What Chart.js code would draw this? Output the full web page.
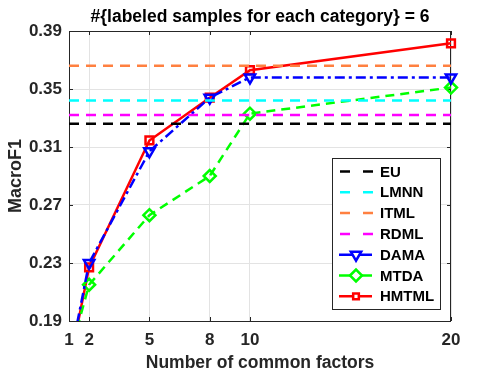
<!DOCTYPE html>
<html><head><meta charset="utf-8">
<script src="https://cdn.jsdelivr.net/npm/chart.js@4/dist/chart.umd.min.js"></script>
<style>html,body{margin:0;padding:0;background:#fff}#wrap{width:498px;height:380px}</style>
</head><body><div id="wrap"><canvas id="c" width="498" height="380"></canvas></div>
<script>
const xValues = [1, 2, 5, 8, 10, 20];
const xTicks = [1, 2, 5, 8, 10, 20];
const yTicks = [0.19, 0.23, 0.27, 0.31, 0.35, 0.39];
const EU = [0.326, 0.326, 0.326, 0.326, 0.326, 0.326];
const LMNN = [0.342, 0.342, 0.342, 0.342, 0.342, 0.342];
const ITML = [0.366, 0.366, 0.366, 0.366, 0.366, 0.366];
const RDML = [0.332, 0.332, 0.332, 0.332, 0.332, 0.332];
const DAMA = [0.160, 0.230, 0.307, 0.344, 0.358, 0.358];
const MTDA = [0.165, 0.215, 0.263, 0.290, 0.333, 0.351];
const HMTML = [0.158, 0.227, 0.3145, 0.344, 0.363, 0.3815];
const names = ['EU', 'LMNN', 'ITML', 'RDML', 'DAMA', 'MTDA', 'HMTML'];
const titleText = '#{labeled samples for each category} = 6';

const FONT = 'Liberation Sans, Arial, sans-serif';
const CLIP = {left: 0, top: 0, right: false, bottom: 0};
function pts(arr){ return arr.map((v,i)=>({x:xValues[i], y:v})); }
function hline(label, arr, color){
  return {label, data: pts(arr), borderColor: color, backgroundColor: color, borderWidth: 2.5,
    borderDash: [10, 7], pointRadius: 0, fill: false, tension: 0};
}
const datasets = [
  hline(names[0], EU, '#000000'),
  hline(names[1], LMNN, '#00ffff'),
  hline(names[2], ITML, '#ff8040'),
  hline(names[3], RDML, '#ff00ff'),
  {label: names[4], data: pts(DAMA), clip: CLIP, borderColor: '#0000ff', backgroundColor: 'rgba(0,0,0,0)', borderWidth: 2.5,
    borderDash: [10, 4, 3, 4], pointStyle: 'triangle', rotation: 180, pointRadius: 6, pointBorderWidth: 2.5, pointBorderColor: '#0000ff', pointBackgroundColor: 'rgba(0,0,0,0)'},
  {label: names[5], data: pts(MTDA), clip: CLIP, borderColor: '#00ff00', backgroundColor: 'rgba(0,0,0,0)', borderWidth: 2.5,
    borderDash: [9, 6], pointStyle: 'rectRot', pointRadius: 6, pointBorderWidth: 2.5, pointBorderColor: '#00ff00', pointBackgroundColor: 'rgba(0,0,0,0)'},
  {label: names[6], data: pts(HMTML), clip: CLIP, borderColor: '#ff0000', backgroundColor: 'rgba(0,0,0,0)', borderWidth: 2.5,
    pointStyle: 'rect', pointRadius: 5.5, pointBorderWidth: 2.5, pointBorderColor: '#ff0000', pointBackgroundColor: 'rgba(0,0,0,0)'}
];

const framePlugin = {
  id: 'frame',
  beforeDatasetsDraw(chart){
    const {ctx, chartArea:a, scales} = chart;
    ctx.save();
    ctx.strokeStyle = '#262626'; ctx.lineWidth = 1;
    ctx.strokeRect(a.left+0.5, a.top+0.5, a.right-a.left-1, a.bottom-a.top);
    ctx.beginPath();
    xTicks.forEach(t=>{ const x = Math.round(scales.x.getPixelForValue(t))+0.5; ctx.moveTo(x, a.top); ctx.lineTo(x, a.top+4); ctx.moveTo(x, a.bottom); ctx.lineTo(x, a.bottom-4);});
    yTicks.forEach(t=>{ const y = Math.round(scales.y.getPixelForValue(t))+0.5; ctx.moveTo(a.right, y); ctx.lineTo(a.right-4, y); ctx.moveTo(a.left, y); ctx.lineTo(a.left+4, y);});
    ctx.stroke();
    ctx.restore();
  },
  afterDatasetsDraw(chart){
    const {ctx, chartArea:a} = chart;
    ctx.save();
    ctx.fillStyle = '#000'; ctx.font = 'bold 17.5px ' + FONT;
    ctx.textAlign = 'center'; ctx.textBaseline = 'middle';
    ctx.fillText(titleText, (a.left + a.right)/2, 17);
    // legend box
    const bx = 332, by = 158, bw = 108, bh = 151;
    ctx.fillStyle = '#fff'; ctx.fillRect(bx, by, bw, bh);
    ctx.strokeStyle = '#262626'; ctx.lineWidth = 1; ctx.strokeRect(bx+0.5, by+0.5, bw, bh);
    ctx.font = 'bold 15px ' + FONT; ctx.textBaseline = 'middle'; ctx.textAlign = 'left';
    chart.data.datasets.forEach((ds, i)=>{
      const y = 171.5 + i*20.8;
      ctx.strokeStyle = ds.borderColor; ctx.lineWidth = 2.5;
      ctx.beginPath();
      if (i < 4) { ctx.setLineDash([10, 13]); ctx.moveTo(340, y); ctx.lineTo(373, y); }
      else { ctx.setLineDash([]); ctx.moveTo(339, y); ctx.lineTo(372, y); }
      ctx.stroke();
      ctx.setLineDash([]);
      if (ds.pointStyle) {
        ctx.fillStyle = '#ffffff'; ctx.strokeStyle = ds.borderColor; ctx.lineWidth = 2.5;
        Chart.helpers.drawPoint(ctx, {pointStyle: ds.pointStyle, radius: ds.pointStyle === 'rect' ? 4 : 6, rotation: ds.rotation || 0, borderWidth: 2.5}, 356, y);
      }
      ctx.fillStyle = '#000';
      ctx.fillText(ds.label, 380, y+1);
    });
    ctx.restore();
  }
};

new Chart(document.getElementById('c'), {
  type: 'line',
  data: {datasets},
  options: {
    responsive: false, animation: false, devicePixelRatio: 1,
    layout: {padding: {left: 0, right: 47, top: 31, bottom: 0}},
    plugins: {legend: {display: false}, tooltip: {enabled: false}, title: {display: false}},
    scales: {
      x: {type: 'linear', min: 1, max: 20,
        afterBuildTicks: s => { s.ticks = xTicks.map(v=>({value: v})); },
        afterFit: s => { s.height = 59; },
        grid: {color: '#e3e3e3', drawTicks: false},
        border: {display: false},
        ticks: {color: '#262626', padding: 9, font: {family: FONT, size: 17, weight: 'bold'}, maxRotation: 0, autoSkip: false},
        title: {display: true, text: 'Number of common factors', color: '#262626', font: {family: FONT, size: 17.5, weight: 'bold'}, padding: {top: 0, bottom: 6}}
      },
      y: {min: 0.19, max: 0.39,
        afterBuildTicks: s => { s.ticks = yTicks.map(v=>({value: v})); },
        afterFit: s => { s.width = 69; },
        grid: {color: '#e3e3e3', drawTicks: false},
        border: {display: false},
        ticks: {color: '#262626', padding: 7, font: {family: FONT, size: 17, weight: 'bold'}, callback: v => v.toFixed(2)},
        title: {display: true, text: 'MacroF1', color: '#262626', font: {family: FONT, size: 18, weight: 'bold'}, padding: {top: 5, bottom: 0}}
      }
    }
  },
  plugins: [framePlugin]
});
</script></body></html>
